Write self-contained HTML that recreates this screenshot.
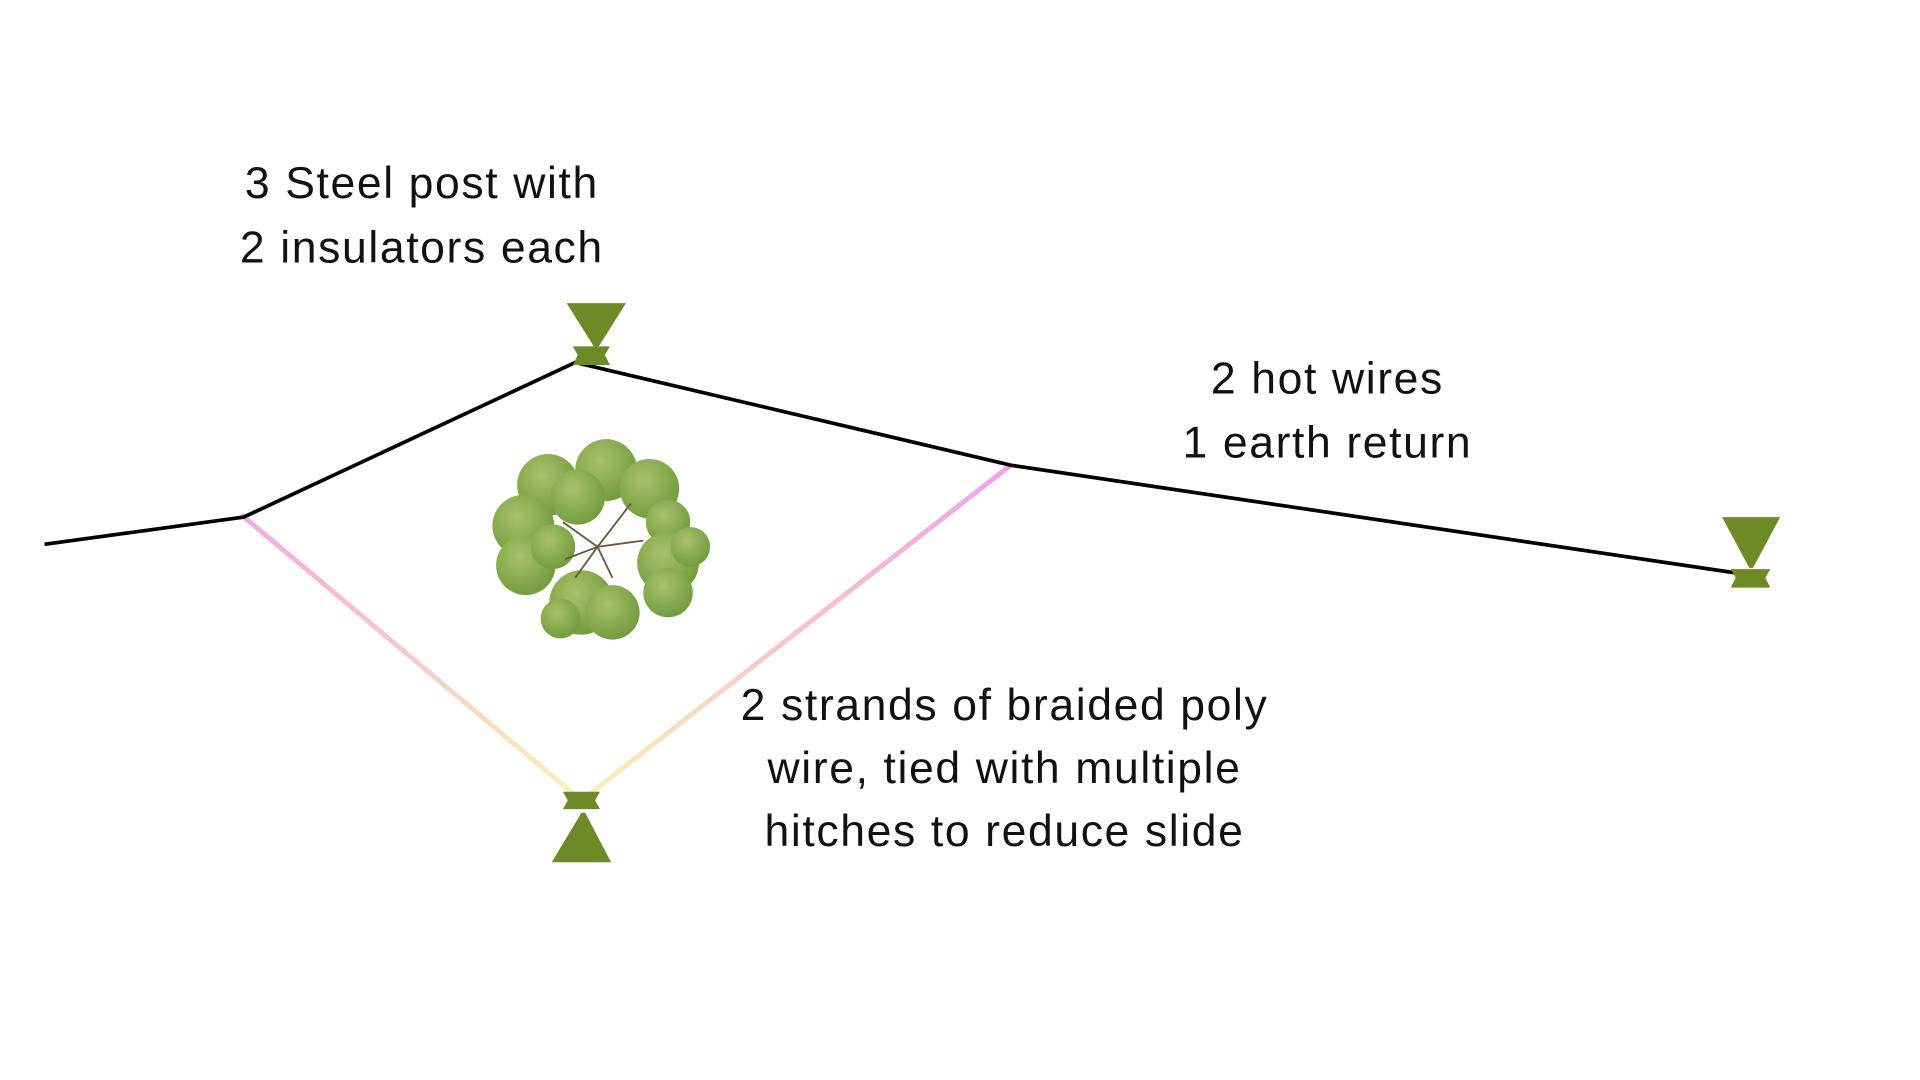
<!DOCTYPE html>
<html><head><meta charset="utf-8"><style>
html,body{margin:0;padding:0;background:#fff;width:1920px;height:1080px;overflow:hidden}
svg{display:block}
text{font-family:"Liberation Sans",sans-serif;font-size:36px;letter-spacing:1.3px;fill:#111;text-anchor:middle}
</style></head><body>
<svg width="1920" height="1080" viewBox="0 0 1552 873" preserveAspectRatio="none">
<defs>
<linearGradient id="g" x1="0" y1="0" x2="0" y2="1" gradientUnits="objectBoundingBox">
<stop offset="0" stop-color="#f0a0e8"/><stop offset="0.55" stop-color="#f8c8c8"/><stop offset="1" stop-color="#fbf1b8"/>
</linearGradient>
<radialGradient id="leaf" cx="0.4" cy="0.35" r="0.7">
<stop offset="0" stop-color="#a9c26a"/><stop offset="1" stop-color="#6f9a3c"/>
</radialGradient>
</defs>
<g transform="translate(-5,-3)">
<polyline points="200,419 475,650 822,379" fill="none" stroke="url(#g)" stroke-width="4"/>
<polyline points="41,443 202,421 470,296 822,379 1414,467" fill="none" stroke="#000" stroke-width="3"/>
<g fill="#6e8a26">
<polygon points="463,248 511,248 489,283 485,283"/>
<polygon points="468,283 498,283 494,290 498,298 468,298 472,290"/>
<polygon points="1397,421 1444,421 1422,462 1419,462"/>
<polygon points="1404,463 1436,463 1432,470 1436,478 1404,478 1408,470"/>
<polygon points="460,643 490,643 486,650 490,657 460,657 464,650"/>
<polygon points="475,660 478,660 499,700 451,700"/>
</g>
<g fill="url(#leaf)">
<circle cx="448" cy="395" r="25"/><circle cx="495" cy="383" r="25"/><circle cx="530" cy="398" r="24"/>
<circle cx="472" cy="405" r="22"/><circle cx="545" cy="425" r="18"/>
<circle cx="428" cy="428" r="25"/><circle cx="430" cy="460" r="24"/><circle cx="452" cy="445" r="18"/>
<circle cx="545" cy="458" r="25"/><circle cx="563" cy="445" r="16"/><circle cx="545" cy="482" r="20"/>
<circle cx="475" cy="490" r="26"/><circle cx="500" cy="498" r="22"/><circle cx="458" cy="503" r="16"/>
</g>
<g stroke="#6b5a3e" stroke-width="1.5" fill="none">
<path d="M488 445 L460 425 M488 445 L515 410 M488 445 L525 440 M488 445 L462 455 M488 445 L500 470 M488 445 L470 470"/>
</g>
</g>
<text x="341" y="160">3 Steel post with</text>
<text x="341" y="212">2 insulators each</text>
<text x="1073" y="318">2 hot wires</text>
<text x="1073" y="370">1 earth return</text>
<text x="812" y="582">2 strands of braided poly</text>
<text x="812" y="633">wire, tied with multiple</text>
<text x="812" y="684">hitches to reduce slide</text>
</svg>
</body></html>
